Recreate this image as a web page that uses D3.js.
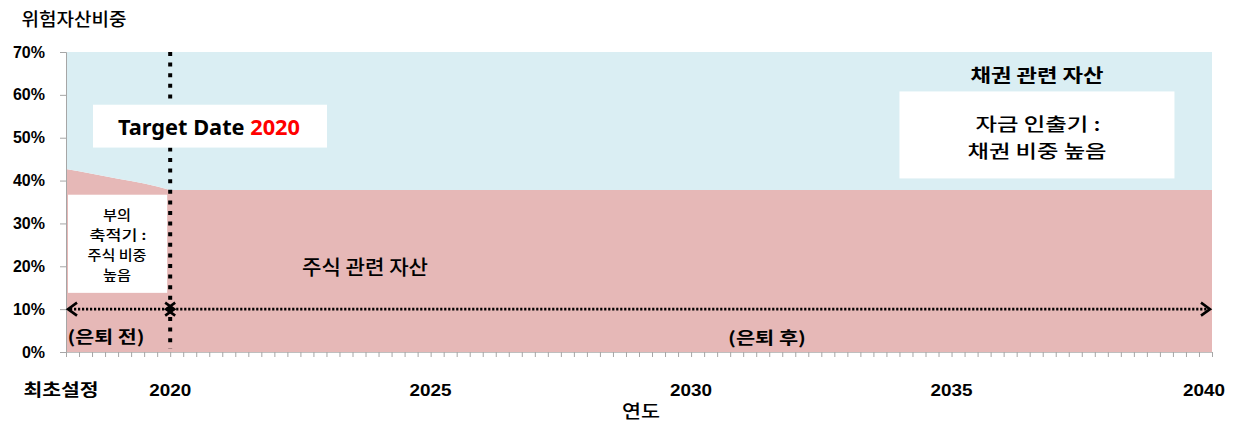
<!DOCTYPE html>
<html>
<head>
<meta charset="utf-8">
<script src="https://cdn.jsdelivr.net/npm/d3@7"></script>
<style>
  body { margin: 0; background: #fff; }
  text { font-family: "Noto Sans CJK KR", "Noto Sans", sans-serif; }
  .num { font-family: "Liberation Sans", Arial, sans-serif; font-weight: bold; }
</style>
</head>
<body>
<div id="chart"></div>
<script>
var WIDTH = 1234, HEIGHT = 423;
var margin = {top: 52, right: 22, bottom: 71, left: 66};

// 분기별 카테고리 (2018Q1 ~ 2040Q1)
var years = d3.range(2018, 2041);
var categories = [];
years.forEach(function (y) {
    [1, 2, 3, 4].forEach(function (q) {
        if (y < 2040 || q === 1) categories.push(y + "Q" + q);
    });
});

// 주식 관련 자산 비중 (%) - 2020년 이후 37.8% 고정
var stockHead = [42.7, 42.2, 41.6, 41.0, 40.4, 39.9, 39.3, 38.6, 37.8];
var stockValues = categories.map(function (c, i) {
    return i < stockHead.length ? stockHead[i] : 37.8;
});
// 채권 관련 자산 비중 (%)
var bondValues = stockValues.map(function (v) { return 100 - v; });

var tickLabels = {"2018Q1": "최초설정", "2020Q1": "2020", "2025Q1": "2025", "2030Q1": "2030", "2035Q1": "2035", "2040Q1": "2040"};
var yTicks = [0, 10, 20, 30, 40, 50, 60, 70];
var targetCat = "2020Q1";

var svg = d3.select("#chart").append("svg")
    .attr("width", WIDTH)
    .attr("height", HEIGHT);

var x = d3.scalePoint().domain(categories).range([margin.left, WIDTH - margin.right]);
var y = d3.scaleLinear().domain([0, 70]).range([HEIGHT - margin.bottom, margin.top]);

svg.append("defs").append("clipPath").attr("id", "plot")
    .append("rect")
    .attr("x", margin.left).attr("y", margin.top)
    .attr("width", WIDTH - margin.left - margin.right)
    .attr("height", HEIGHT - margin.top - margin.bottom);

var rows = categories.map(function (c, i) {
    return {cat: c, stock: stockValues[i], bond: bondValues[i]};
});
var series = d3.stack().keys(["stock", "bond"])(rows);
var colors = {stock: "#e6b8b7", bond: "#daeef3"};

var area = d3.area()
    .x(function (d) { return x(d.data.cat); })
    .y0(function (d) { return y(d[0]); })
    .y1(function (d) { return y(d[1]); });

svg.append("g").attr("clip-path", "url(#plot)")
    .selectAll("path")
    .data(series)
    .enter().append("path")
    .attr("fill", function (d) { return colors[d.key]; })
    .attr("d", area);

// y 축
var yAxis = d3.axisLeft(y).tickValues(yTicks).tickSize(6).tickFormat(function (d) { return d + "%"; });
var gy = svg.append("g").attr("transform", "translate(" + margin.left + ",0)").call(yAxis);
gy.select(".domain").attr("stroke", "#a6a6a6");
gy.selectAll(".tick line").attr("stroke", "#a6a6a6");
gy.selectAll(".tick text").attr("class", "num").attr("font-size", 16).attr("fill", "#000").attr("x", -21);

// x 축
var xAxis = d3.axisBottom(x).tickSize(5).tickFormat("");
var gx = svg.append("g").attr("transform", "translate(0," + y(0) + ")").call(xAxis);
gx.select(".domain").attr("stroke", "#bfbfbf").attr("d", "M" + margin.left + ",0.5H" + (WIDTH - margin.right));
gx.selectAll(".tick line").attr("stroke", "#a6a6a6");

svg.append("g").selectAll("text")
    .data(categories.filter(function (c) { return tickLabels[c]; }))
    .enter().append("text")
    .attr("class", function (c) { return c === categories[0] ? "" : "num"; })
    .attr("x", function (c) {
        if (c === categories[0]) return x(c) - 5;
        if (c === categories[categories.length - 1]) return x(c) - 8;
        return x(c);
    })
    .attr("y", 396)
    .attr("text-anchor", "middle")
    .attr("font-size", 17)
    .attr("font-weight", "bold")
    .attr("textLength", function (c) { return c === categories[0] ? 75 : 42; })
    .attr("lengthAdjust", "spacingAndGlyphs")
    .text(function (c) { return tickLabels[c]; });

// 텍스트 주석 (한 줄씩)
function label(cx, by, s, size, weight, w) {
    var t = svg.append("text").attr("x", cx).attr("y", by)
        .attr("text-anchor", "middle").attr("font-size", size)
        .attr("font-weight", weight).attr("fill", "#000").text(s);
    if (w) t.attr("textLength", w).attr("lengthAdjust", "spacingAndGlyphs");
    return t;
}

label(74, 26, "위험자산비중", 18, "500", 105);
label(641, 418, "연도", 18, "500", 38);

// 흰 상자
function box(x0, y0, w, h) {
    svg.append("rect").attr("x", x0).attr("y", y0).attr("width", w).attr("height", h).attr("fill", "#fff");
}
box(x(categories[0]) + 2, y(36.7), x(targetCat) - x(categories[0]) - 5, y(13.8) - y(36.7));
box(x("2034Q1"), y(60.8), 275, y(40.5) - y(60.8));

// Target Date 점선
var tx = x(targetCat);
svg.append("line")
    .attr("x1", tx).attr("x2", tx)
    .attr("y1", y(70)).attr("y2", y(0) - 3)
    .attr("stroke", "#000").attr("stroke-width", 4)
    .attr("stroke-dasharray", "4 6.6");

box(93, y(57.7), 234, y(47.7) - y(57.7));
var td = svg.append("text").attr("x", 209).attr("y", 135).attr("text-anchor", "middle")
    .attr("font-size", 21).attr("font-weight", "bold")
    .attr("textLength", 182).attr("lengthAdjust", "spacingAndGlyphs")
    .style("font-family", "'Noto Sans', sans-serif");
td.append("tspan").attr("fill", "#000").text("Target Date ");
td.append("tspan").attr("fill", "#ff0000").text("2020");

// 은퇴 전/후 화살표
var ay = y(10);
function arrow(xa, xb) {
    svg.append("line").attr("x1", xa + 2).attr("x2", xb - 2).attr("y1", ay).attr("y2", ay)
        .attr("stroke", "#000").attr("stroke-width", 2.6).attr("stroke-dasharray", "2.2 1.8");
    [[xa, 1], [xb, -1]].forEach(function (p) {
        svg.append("path")
            .attr("d", "M" + (p[0] + 9 * p[1]) + "," + (ay - 6.5) + "L" + p[0] + "," + ay + "L" + (p[0] + 9 * p[1]) + "," + (ay + 6.5))
            .attr("fill", "none").attr("stroke", "#000").attr("stroke-width", 2.6);
    });
}
arrow(x(categories[0]) + 2, tx + 4);
arrow(tx - 4, x(categories[categories.length - 1]) - 2);

label(117, 220, "부의", 13.5, "500", 28);
label(118, 240, "축적기 :", 13.5, "500", 57);
label(117, 260, "주식 비중", 13.5, "500", 59);
label(117, 280, "높음", 13.5, "500", 28);

label(1037, 82, "채권 관련 자산", 18, "bold", 133);
label(1038, 131, "자금 인출기 :", 18.5, "500", 125);
label(1037, 158, "채권 비중 높음", 18.5, "500", 139);
label(365, 275, "주식 관련 자산", 20, "500", 126);
label(106, 343, "(은퇴 전)", 17, "bold", 77);
label(767, 344, "(은퇴 후)", 17, "bold", 78);
</script>
</body>
</html>
